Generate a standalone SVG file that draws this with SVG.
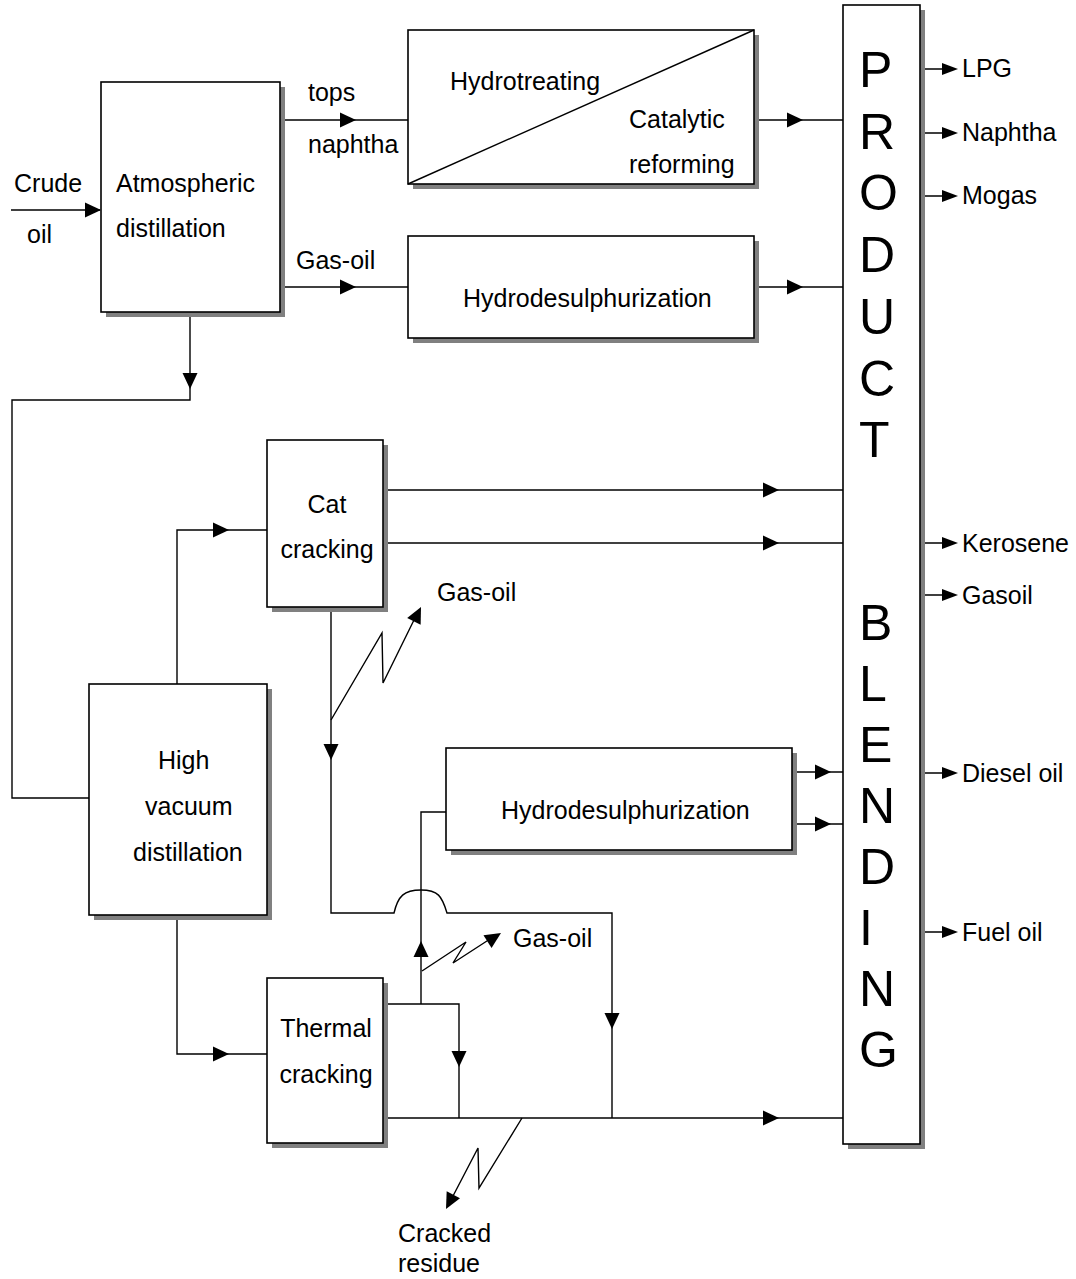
<svg xmlns="http://www.w3.org/2000/svg" xmlns:xlink="http://www.w3.org/1999/xlink" width="1076" height="1279" viewBox="0 0 1076 1279">
<style>
.t{font-family:"Liberation Sans",Arial,sans-serif;font-size:25px;fill:#000}
.big{font-family:"Liberation Sans",Arial,sans-serif;font-size:50px;fill:#000}
.box{fill:#fff;stroke:#000;stroke-width:1.6}
.sh{fill:#808080;stroke:none}
.ln{fill:none;stroke:#000;stroke-width:1.4}
.ah{fill:#000;stroke:none}
</style>
<defs>
<path id="ah" class="ah" d="M0,0 L-16,-7.5 L-16,7.5 Z"/>
<path id="ahs" class="ah" d="M0,0 L-16,-6 L-16,6 Z"/>
</defs>
<rect width="1076" height="1279" fill="#fff"/>

<g id="connectors">
  <!-- crude oil -->
  <path class="ln" d="M11,210 H100"/>
  <use xlink:href="#ah" transform="translate(101,210)"/>
  <!-- tops naphtha -->
  <path class="ln" d="M280,120 H408"/>
  <use xlink:href="#ah" transform="translate(356,120)"/>
  <!-- gas-oil from atm -->
  <path class="ln" d="M280,287 H408"/>
  <use xlink:href="#ah" transform="translate(356,287)"/>
  <!-- hydrotreating out -->
  <path class="ln" d="M754,120 H843"/>
  <use xlink:href="#ah" transform="translate(803,120)"/>
  <!-- HDS upper out -->
  <path class="ln" d="M754,287 H843"/>
  <use xlink:href="#ah" transform="translate(803,287)"/>
  <!-- atm bottom to HVD -->
  <path class="ln" d="M190,312 V400 H12 V798 H89"/>
  <use xlink:href="#ah" transform="translate(190,389) rotate(90)"/>
  <!-- HVD to cat cracking -->
  <path class="ln" d="M177,684 V530 H267"/>
  <use xlink:href="#ah" transform="translate(229,530)"/>
  <!-- cat cracking outs -->
  <path class="ln" d="M383,490 H843"/>
  <use xlink:href="#ah" transform="translate(779,490)"/>
  <path class="ln" d="M383,543 H843"/>
  <use xlink:href="#ah" transform="translate(779,543)"/>
  <!-- cat cracking bottom with jump -->
  <path class="ln" d="M331,607 V913 H394 C398,896 404,890 421,890 C438,890 442,896 447,913 H612 V1118"/>
  <use xlink:href="#ah" transform="translate(331,760) rotate(90)"/>
  <use xlink:href="#ah" transform="translate(612,1029) rotate(90)"/>
  <!-- HVD to thermal -->
  <path class="ln" d="M177,915 V1054 H267"/>
  <use xlink:href="#ah" transform="translate(229,1054)"/>
  <!-- thermal bottom out -->
  <path class="ln" d="M383,1118 H843"/>
  <use xlink:href="#ah" transform="translate(779,1118)"/>
  <!-- thermal top out -->
  <path class="ln" d="M383,1004 H459 V1118"/>
  <use xlink:href="#ah" transform="translate(459,1067) rotate(90)"/>
  <!-- thermal to lower HDS -->
  <path class="ln" d="M421,1004 V812 H446"/>
  <use xlink:href="#ah" transform="translate(421,941) rotate(-90)"/>
  <!-- lower HDS outs -->
  <path class="ln" d="M792,772 H843"/>
  <use xlink:href="#ah" transform="translate(831,772)"/>
  <path class="ln" d="M792,824 H843"/>
  <use xlink:href="#ah" transform="translate(831,824)"/>
  <!-- zigzag gas-oil from cat cracking -->
  <path class="ln" d="M331,720 L382,633 L383,683 L414,620"/>
  <use xlink:href="#ah" transform="translate(421,607) rotate(-63.7)"/>
  <!-- zigzag gas-oil from thermal -->
  <path class="ln" d="M422,971 L466,942 L453,963 L490,939"/>
  <use xlink:href="#ah" transform="translate(501,933) rotate(-32.6)"/>
  <!-- zigzag cracked residue -->
  <path class="ln" d="M522,1118 L479,1188 L478,1148 L453,1196"/>
  <use xlink:href="#ah" transform="translate(446,1209) rotate(117.3)"/>
  <!-- product outputs -->
  <path class="ln" d="M920,69 H946 M920,133 H946 M920,196 H946 M920,543 H946 M920,595 H946 M920,773 H946 M920,932 H946"/>
  <use xlink:href="#ahs" transform="translate(958,69)"/>
  <use xlink:href="#ahs" transform="translate(958,133)"/>
  <use xlink:href="#ahs" transform="translate(958,196)"/>
  <use xlink:href="#ahs" transform="translate(958,543)"/>
  <use xlink:href="#ahs" transform="translate(958,595)"/>
  <use xlink:href="#ahs" transform="translate(958,773)"/>
  <use xlink:href="#ahs" transform="translate(958,932)"/>
</g>

<g id="labels">
  <text class="t" x="14" y="192">Crude</text>
  <text class="t" x="27" y="243">oil</text>
  <text class="t" x="308" y="101">tops</text>
  <text class="t" x="308" y="153">naphtha</text>
  <text class="t" x="296" y="269">Gas-oil</text>
  <text class="t" x="437" y="601">Gas-oil</text>
  <text class="t" x="513" y="947">Gas-oil</text>
  <text class="t" x="398" y="1242">Cracked</text>
  <text class="t" x="398" y="1272">residue</text>
  <text class="t" x="962" y="77">LPG</text>
  <text class="t" x="962" y="141">Naphtha</text>
  <text class="t" x="962" y="204">Mogas</text>
  <text class="t" x="962" y="552">Kerosene</text>
  <text class="t" x="962" y="604">Gasoil</text>
  <text class="t" x="962" y="782">Diesel oil</text>
  <text class="t" x="962" y="941">Fuel oil</text>
</g>

<g id="atmospheric-distillation">
  <rect class="sh" x="106" y="87" width="179" height="230"/>
  <rect class="box" x="101" y="82" width="179" height="230"/>
  <text class="t" x="116" y="192">Atmospheric</text>
  <text class="t" x="116" y="237">distillation</text>
</g>

<g id="hydrotreating-reforming">
  <rect class="sh" x="413" y="35" width="346" height="154"/>
  <rect class="box" x="408" y="30" width="346" height="154"/>
  <path class="ln" d="M408,184 L754,30"/>
  <text class="t" x="450" y="90">Hydrotreating</text>
  <text class="t" x="629" y="128">Catalytic</text>
  <text class="t" x="629" y="173">reforming</text>
</g>

<g id="hds-upper">
  <rect class="sh" x="413" y="241" width="346" height="102"/>
  <rect class="box" x="408" y="236" width="346" height="102"/>
  <text class="t" x="463" y="307">Hydrodesulphurization</text>
</g>

<g id="cat-cracking">
  <rect class="sh" x="272" y="445" width="116" height="167"/>
  <rect class="box" x="267" y="440" width="116" height="167"/>
  <text class="t" x="327" y="513" text-anchor="middle">Cat</text>
  <text class="t" x="327" y="558" text-anchor="middle">cracking</text>
</g>

<g id="high-vacuum-distillation">
  <rect class="sh" x="94" y="689" width="178" height="231"/>
  <rect class="box" x="89" y="684" width="178" height="231"/>
  <text class="t" x="158" y="769">High</text>
  <text class="t" x="145" y="815">vacuum</text>
  <text class="t" x="133" y="861">distillation</text>
</g>

<g id="hds-lower">
  <rect class="sh" x="451" y="753" width="346" height="102"/>
  <rect class="box" x="446" y="748" width="346" height="102"/>
  <text class="t" x="501" y="819">Hydrodesulphurization</text>
</g>

<g id="thermal-cracking">
  <rect class="sh" x="272" y="983" width="116" height="165"/>
  <rect class="box" x="267" y="978" width="116" height="165"/>
  <text class="t" x="326" y="1037" text-anchor="middle">Thermal</text>
  <text class="t" x="326" y="1083" text-anchor="middle">cracking</text>
</g>

<g id="product-blending">
  <rect class="sh" x="848" y="10" width="77" height="1139"/>
  <rect class="box" x="843" y="5" width="77" height="1139"/>
  <text class="big" x="859" y="87">P</text>
  <text class="big" x="859" y="149">R</text>
  <text class="big" x="859" y="210">O</text>
  <text class="big" x="859" y="272">D</text>
  <text class="big" x="859" y="334">U</text>
  <text class="big" x="859" y="396">C</text>
  <text class="big" x="859" y="457">T</text>
  <text class="big" x="859" y="640">B</text>
  <text class="big" x="859" y="701">L</text>
  <text class="big" x="859" y="762">E</text>
  <text class="big" x="859" y="823">N</text>
  <text class="big" x="859" y="884">D</text>
  <text class="big" x="859" y="945">I</text>
  <text class="big" x="859" y="1006">N</text>
  <text class="big" x="859" y="1067">G</text>
</g>
</svg>
